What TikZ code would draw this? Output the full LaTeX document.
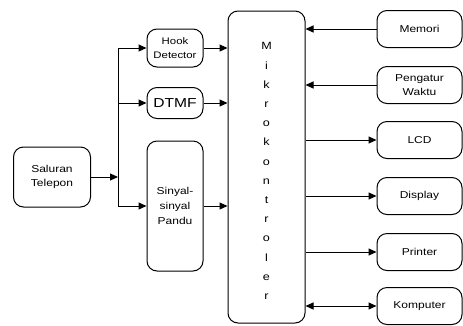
\documentclass[tikz,border=0pt]{standalone}
\usepackage{fontspec}
\setmainfont[FakeStretch=1.2]{Liberation Sans}
\usepackage{tikz}
\usetikzlibrary{calc, positioning, arrows.meta}

\tikzset{
  blok/.style={draw, line width=1pt, rounded corners=10pt, align=center, inner sep=1pt,
    font=\fontsize{10}{14}\selectfont},
  kanan/.style={blok, minimum width=85pt, minimum height=37pt},
  tengah/.style={blok, minimum width=56pt},
  panah/.style={->, line width=1pt}
}

\begin{document}
\begin{tikzpicture}[x=1pt, y=-1pt, >={Triangle[length=8pt, width=7pt]}]
  \useasboundingbox (0,0) rectangle (463,325);

  % input side
  \node[blok, minimum width=77pt, minimum height=60pt] (saluran) at (52,177) {Saluran\\Telepon};
  \node[tengah, minimum height=38pt, font=\fontsize{9.5}{13.5}\selectfont] (hook) at (175,48) {Hook\\Detector};
  \node[tengah, minimum height=31pt, font=\fontsize{13}{13}\selectfont] (dtmf) at (175,103) {DTMF};
  \node[tengah, minimum height=130pt, font=\fontsize{10}{15}\selectfont] (pandu) at (175,206) {Sinyal-\\sinyal\\Pandu};

  % mikrokontroler
  \node[blok, minimum width=77pt, minimum height=312pt, font=\fontsize{10.5}{19.2}\selectfont] (mikro) at (266.5,167) {};
  \node[font=\fontsize{10.5}{19.2}\selectfont, align=center] (huruf) at (266.5,171)
    {M\\i\\k\\r\\o\\k\\o\\n\\t\\r\\o\\l\\e\\r};

  % output side
  \node[kanan] (memori) at (419.5,29) {Memori};
  \node[kanan] (waktu) at (419.5,85) {Pengatur\\Waktu};
  \node[kanan] (lcd) at (419.5,140) {LCD};
  \node[kanan] (display) at (419.5,196) {Display};
  \node[kanan] (printer) at (419.5,252) {Printer};
  \node[kanan] (komputer) at (419.5,306) {Komputer};

  \coordinate (cabang) at (118,177);

  \draw[panah] (saluran.east |- cabang) -- (cabang);
  \draw[line width=1pt] (cabang |- hook.west) -- (cabang |- pandu.west);
  \draw[panah] (cabang |- hook.west) -- (hook.west);
  \draw[panah] (cabang |- dtmf.west) -- (dtmf.west);
  \draw[panah] (cabang |- pandu.west) -- (pandu.west);

  \draw[panah] (hook.east) -- (hook.east -| mikro.west);
  \draw[panah] (dtmf.east) -- (dtmf.east -| mikro.west);
  \draw[panah] (pandu.east) -- (pandu.east -| mikro.west);

  \draw[panah] (memori.west) -- (memori.west -| mikro.east);
  \draw[panah] (waktu.west) -- (waktu.west -| mikro.east);
  \draw[panah] (lcd.west -| mikro.east) -- (lcd.west);
  \draw[panah] (display.west -| mikro.east) -- (display.west);
  \draw[panah] (printer.west -| mikro.east) -- (printer.west);
  \draw[<->, line width=1pt] (komputer.west -| mikro.east) -- (komputer.west);
\end{tikzpicture}
\end{document}
